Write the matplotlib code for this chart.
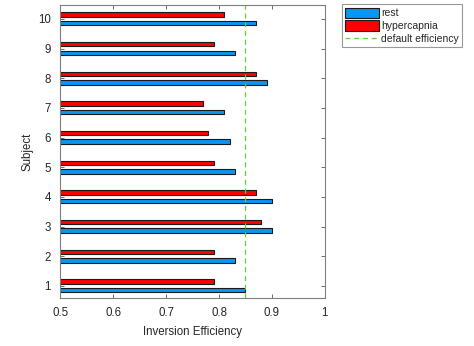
import numpy as np
import matplotlib
matplotlib.use('Agg')
import matplotlib.pyplot as plt

plt.rcParams['font.family'] = ['Liberation Sans', 'DejaVu Sans']

subjects = [1, 2, 3, 4, 5, 6, 7, 8, 9, 10]
rest = [0.85, 0.83, 0.90, 0.90, 0.83, 0.82, 0.81, 0.89, 0.83, 0.87]
hypercapnia = [0.79, 0.79, 0.88, 0.87, 0.79, 0.78, 0.77, 0.87, 0.79, 0.81]
default_eff = 0.85

txt = '#262626'
fig = plt.figure(figsize=(4.74, 3.46), dpi=100)
ax = fig.add_axes([0.1276, 0.1396, 0.5574, 0.8451])

y = np.array(subjects)
h = 0.15
b1 = ax.barh(y - 0.14, np.array(rest) - 0.5, left=0.5, height=h, color='#0a96f0',
             edgecolor='#1a1a1a', linewidth=0.8, label='rest')
b2 = ax.barh(y + 0.15, np.array(hypercapnia) - 0.5, left=0.5, height=h, color='#ff0000',
             edgecolor='#1a1a1a', linewidth=0.8, label='hypercapnia')
ln = ax.axvline(default_eff, color='#5cd62e', linestyle='--', linewidth=0.9,
                dashes=(4, 3), label='default efficiency')

ax.set_xlim(0.5, 1.0)
ax.set_ylim(0.6, 10.46)
ax.set_xticks([0.5, 0.6, 0.7, 0.8, 0.9, 1.0])
ax.set_xticklabels(['0.5', '0.6', '0.7', '0.8', '0.9', '1'])
ax.set_yticks(subjects)
ax.tick_params(direction='in', length=3, width=0.6, color='#555555',
               labelsize=8.3, labelcolor=txt, top=True, right=True, pad=7)
for s in ax.spines.values():
    s.set_color('#7f7f7f')
    s.set_linewidth(0.8)

ax.set_xlabel('Inversion Efficiency', fontsize=8.3, color=txt, labelpad=5)
ax.set_ylabel('Subject', fontsize=8.3, color=txt, labelpad=3)

leg = ax.legend([b1, b2, ln], ['rest', 'hypercapnia', 'default efficiency'],
                loc='upper left', bbox_to_anchor=(1.065, 1.003), fontsize=7.5,
                frameon=True, fancybox=False, borderpad=0.3, labelspacing=0.2,
                handlelength=3.3, handleheight=1.2, handletextpad=0.2,
                borderaxespad=0)
leg.get_frame().set_edgecolor('#7f7f7f')
leg.get_frame().set_linewidth(0.8)
for t in leg.get_texts():
    t.set_color(txt)

fig.savefig('out.png', dpi=100)
